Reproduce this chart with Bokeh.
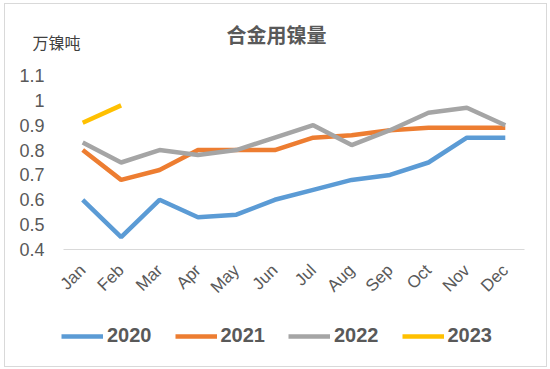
from bokeh.plotting import figure
from bokeh.layouts import column
from bokeh.models import Legend, LegendItem, Label, FixedTicker, ColumnDataSource
from bokeh.embed import file_html
from bokeh.resources import INLINE
from math import pi

months = ["Jan", "Feb", "Mar", "Apr", "May", "Jun", "Jul", "Aug", "Sep", "Oct", "Nov", "Dec"]
v2020 = [0.60, 0.45, 0.60, 0.53, 0.54, 0.60, 0.64, 0.68, 0.70, 0.75, 0.85, 0.85]
v2021 = [0.80, 0.68, 0.72, 0.80, 0.80, 0.80, 0.85, 0.86, 0.88, 0.89, 0.89, 0.89]
v2022 = [0.83, 0.75, 0.80, 0.78, 0.80, 0.85, 0.90, 0.82, 0.88, 0.95, 0.97, 0.90]
v2023 = [0.91, 0.98]
series_names = ["2020", "2021", "2022", "2023"]
colors = ["#5B9BD5", "#ED7D31", "#A5A5A5", "#FFC000"]
y_ticks = [0.4, 0.5, 0.6, 0.7, 0.8, 0.9, 1.0, 1.1]
title_text = "合金用镍量"
unit_text = "万镍吨"

TXT = "#595959"
LAT = "Liberation Sans"
CJK = "Noto Sans CJK SC"
W = 541


def blank(h):
    f = figure(width=W, height=h, x_range=(0, W), y_range=(h, 0),
               x_axis_type=None, y_axis_type=None, output_backend="svg",
               toolbar_location=None, min_border=0, frame_align=False)
    f.outline_line_color = None
    f.background_fill_color = "white"
    f.border_fill_color = "white"
    return f


# header: title and unit
top = blank(55)
top.add_layout(Label(x=271, y=30, text=title_text, text_align="center", text_baseline="middle",
                     text_font=CJK, text_font_size="20px", text_font_style="bold", text_color=TXT))
top.add_layout(Label(x=27, y=37, text=unit_text, text_align="left", text_baseline="middle",
                     text_font=CJK, text_font_size="16px", text_color="#404040"))

# main chart
p = figure(width=W, height=247, x_range=months, y_range=(0.4, 1.1),
           output_backend="svg", toolbar_location=None,
           min_border_left=58, min_border_right=22, min_border_top=16, min_border_bottom=57)
p.outline_line_color = None
p.xgrid.grid_line_color = None
p.ygrid.grid_line_color = None
p.background_fill_color = "white"
p.border_fill_color = "white"

p.xaxis.axis_line_color = "#d9d9d9"
p.xaxis.major_tick_line_color = None
p.xaxis.minor_tick_line_color = None
p.xaxis.major_label_orientation = pi / 4
p.xaxis.major_label_text_font = LAT
p.xaxis.major_label_text_font_size = "17px"
p.xaxis.major_label_text_color = TXT
p.xaxis.major_label_standoff = 12

p.yaxis.axis_line_color = None
p.yaxis.major_tick_line_color = None
p.yaxis.minor_tick_line_color = None
p.yaxis.ticker = FixedTicker(ticks=y_ticks)
p.yaxis.major_label_overrides = {1: "1", 1.1: "1.1"}
p.yaxis.major_label_text_font = LAT
p.yaxis.major_label_text_font_size = "18px"
p.yaxis.major_label_text_color = TXT
p.yaxis.major_label_standoff = 13

data = [v2020, v2021, v2022, v2023]
for vals, col in zip(data, colors):
    src = ColumnDataSource(dict(x=months[:len(vals)], y=vals))
    p.line("x", "y", source=src, line_color=col, line_width=4.5)

# legend strip (hidden copies of the series supply the legend swatches)
bot = blank(60)
items = []
for name, vals, col in zip(series_names, data, colors):
    r = bot.line(x=list(range(len(vals))), y=vals, line_color=col, line_width=4.5, visible=False)
    items.append(LegendItem(label=name, renderers=[r]))
legend = Legend(items=items, orientation="horizontal", location=(56, 19),
                glyph_width=42, glyph_height=22, label_standoff=4, spacing=23,
                padding=0, margin=0, border_line_color=None, background_fill_alpha=0,
                inactive_fill_alpha=0,
                label_text_font=LAT, label_text_font_size="20px", label_text_font_style="bold",
                label_text_color=TXT)
bot.add_layout(legend, "center")

layout = column(top, p, bot, spacing=0)
layout.styles = {"border": "1px solid #d9d9d9", "margin-left": "4px", "margin-top": "3px"}

open("out.html", "w").write(file_html(layout, INLINE))
